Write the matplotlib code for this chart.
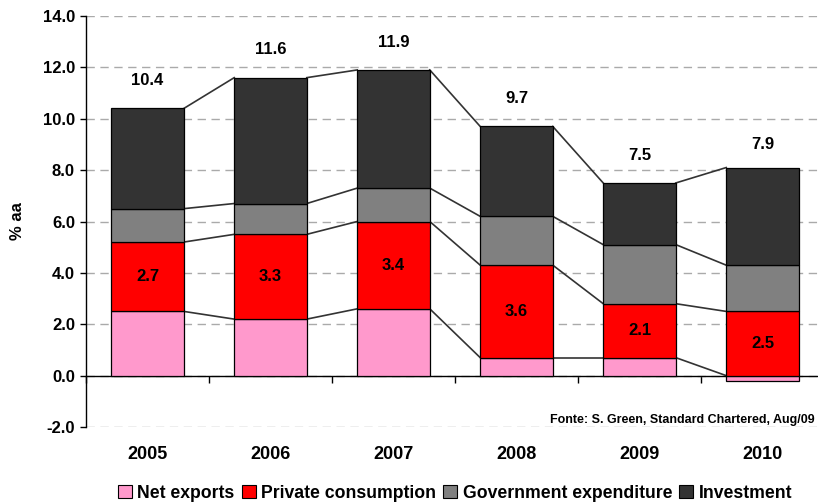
import matplotlib
matplotlib.use("Agg")
import matplotlib.pyplot as plt
import numpy as np
from matplotlib.patches import Patch

plt.rcParams['font.family'] = ['Liberation Sans', 'DejaVu Sans']
plt.rcParams['font.weight'] = 'bold'

years = ['2005', '2006', '2007', '2008', '2009', '2010']
net_exports = [2.5, 2.2, 2.6, 0.7, 0.7, -0.2]
private_consumption = [2.7, 3.3, 3.4, 3.6, 2.1, 2.5]
government = [1.3, 1.2, 1.3, 1.9, 2.3, 1.8]
investment = [3.9, 4.9, 4.6, 3.5, 2.4, 3.8]
series_names = ['Net exports', 'Private consumption', 'Government expenditure', 'Investment']
colors = ['#FF99CC', '#FF0000', '#808080', '#333333']
source = 'Fonte: S. Green, Standard Chartered, Aug/09'

W, H = 818, 503
fig = plt.figure(figsize=(W / 100, H / 100), dpi=100)
ax = fig.add_axes([86 / W, 76 / H, (824 - 86) / W, (427 - 16) / H])

x = np.arange(len(years))
width = 0.59
series = [net_exports, private_consumption, government, investment]

pos_base = np.zeros(len(years))
neg_base = np.zeros(len(years))
bottoms_list, tops_list = [], []
for vals, c in zip(series, colors):
    v = np.array(vals, dtype=float)
    bottom = np.where(v >= 0, pos_base, neg_base)
    ax.bar(x, v, width, bottom=bottom, color=c, edgecolor='black', linewidth=0.9, zorder=3)
    top = bottom + v
    bottoms_list.append(bottom)
    tops_list.append(top)
    pos_base = np.where(v >= 0, top, pos_base)
    neg_base = np.where(v < 0, top, neg_base)

# series lines connecting the outer edge of each segment
for k, vals in enumerate(series):
    v = np.array(vals)
    edge = np.where(v >= 0, tops_list[k], bottoms_list[k])
    for i in range(len(years) - 1):
        ax.plot([x[i] + width / 2, x[i + 1] - width / 2], [edge[i], edge[i + 1]],
                color='#333333', lw=1.2, zorder=2)

# total labels
totals = np.sum(np.array(series), axis=0)
for i, t in enumerate(totals):
    ax.annotate(f'{t:.1f}', (x[i], t), xytext=(0, 20), textcoords='offset points',
                ha='center', va='center', fontsize=12, fontweight='bold')
# private consumption labels
for i, v in enumerate(private_consumption):
    mid = bottoms_list[1][i] + v / 2
    ax.text(x[i], mid, f'{v:.1f}', ha='center', va='center', fontsize=12, fontweight='bold', zorder=4)

ax.set_xlim(-0.5, 5.5)
ax.set_ylim(-2, 14)
ax.set_yticks(np.arange(-2, 14.1, 2))
ax.set_yticklabels([f'{v:.1f}' for v in np.arange(-2, 14.1, 2)], fontsize=12, fontweight='bold')
ax.yaxis.grid(True, linestyle=(0, (6, 4)), color='#AAAAAA', lw=1.0, zorder=0)
ax.set_axisbelow(True)
ax.tick_params(axis='y', direction='out', length=4, width=1, pad=4)
for s in ['top', 'right']:
    ax.spines[s].set_visible(False)
ax.spines['bottom'].set_position(('data', 0))
ax.spines['left'].set_linewidth(1.0)
ax.spines['bottom'].set_linewidth(1.0)
ax.set_xticks(np.arange(-0.5, 5.6, 1))
ax.set_xticklabels([])
ax.tick_params(axis='x', direction='out', length=5, width=1)
for i, yr in enumerate(years):
    ax.annotate(yr, (x[i], -2), xytext=(0, -20), textcoords='offset points',
                ha='center', va='center', fontsize=13, fontweight='bold')

ax.set_ylabel('% aa', fontsize=12, fontweight='bold')
ax.yaxis.set_label_coords(-61 / (824 - 86), (427 - 221) / (427 - 16))

fig.text(815 / W, 1 - 420 / H, source, fontsize=9, fontweight='bold', ha='right', va='center')

handles = [Patch(facecolor=c, edgecolor='black', linewidth=0.8) for c in colors]
fig.legend(handles, series_names, loc='center', bbox_to_anchor=(455 / W, 1 - 493 / H),
           ncol=4, frameon=False, handlelength=0.8, handleheight=0.8,
           handletextpad=0.3, columnspacing=0.4, prop={'weight': 'bold', 'size': 12.7})

fig.savefig('out.png', dpi=100)
